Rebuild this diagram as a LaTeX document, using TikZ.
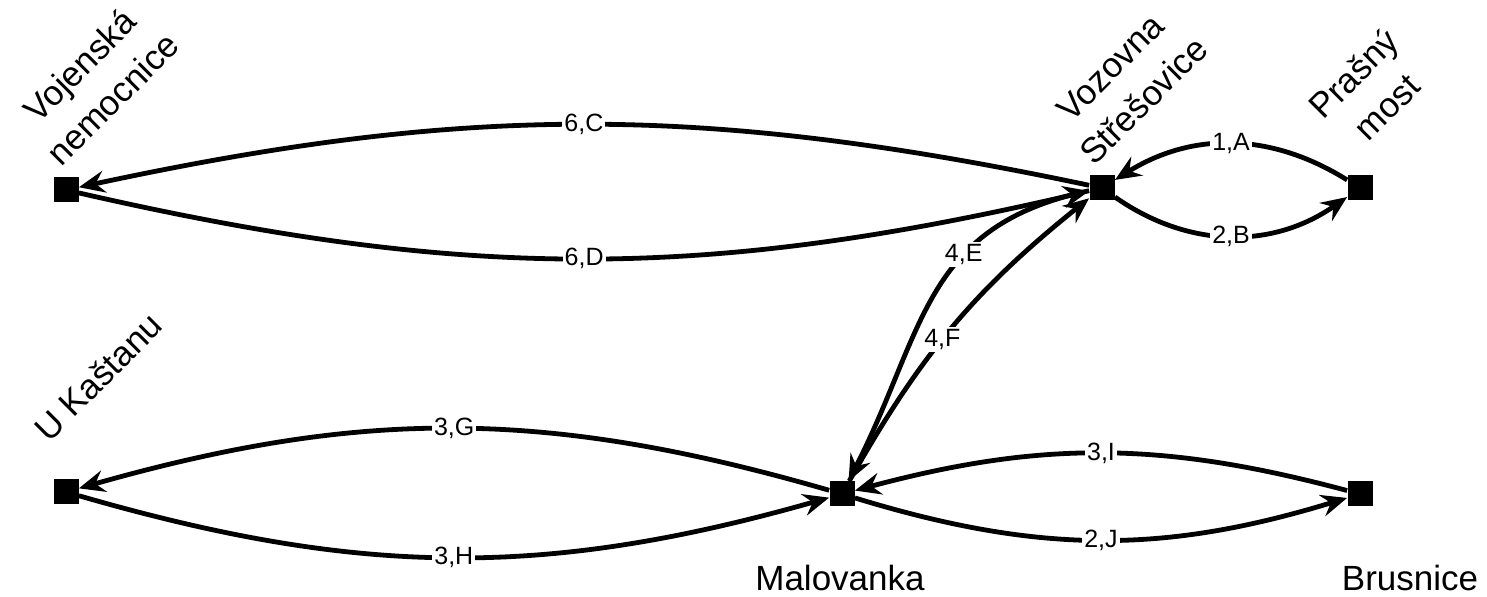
\documentclass[tikz,border=0pt]{standalone}
\usepackage{fontspec}
\setmainfont{Liberation Sans}
\usetikzlibrary{arrows.meta}
\begin{document}
\begin{tikzpicture}[x=0.5pt,y=0.5pt,
  stop/.style={fill=black, rectangle, minimum size=12.5pt, inner sep=0pt},
  stopname/.style={font=\fontsize{17.5}{23.5}\selectfont, align=center, inner sep=0pt},
  rname/.style={stopname, rotate=45},
  link/.style={line width=2.4pt, -{Stealth[length=13pt,width=11pt,inset=4.5pt]}},
  lab/.style={font=\fontsize{12.5}{14}\selectfont, fill=white, inner sep=1pt}]
\useasboundingbox (0,0) rectangle (1487,-597);
% stops
\node[stop] (voj) at (66,-190) {};
\node[stop] (voz) at (1102,-188) {};
\node[stop] (pra) at (1360,-188) {};
\node[stop] (uk) at (66,-492) {};
\node[stop] (mal) at (842,-494) {};
\node[stop] (bru) at (1360,-494) {};
% names
\node[rname] (vojn) at (96,-82) {Vojenská\\nemocnice};
\node[rname] (vozn) at (1127,-84) {Vozovna\\Střešovice};
\node[rname] (pran) at (1370,-90) {Prašný\\most};
\node[rname] (ukn) at (98,-377) {U Kaštanu};
\node[stopname] (maln) at (840,-578) {Malovanka};
\node[stopname] (brun) at (1410,-578) {Brusnice};
% connections
\draw[link] (voz) to[bend right=12] node[lab] {6,C} (voj);
\draw[link] (voj) to[bend right=13] node[lab] {6,D} (voz);
\draw[link] (pra) to[bend right=32] node[lab] {1,A} (voz);
\draw[link] (voz) to[bend right=35] node[lab] {2,B} (pra);
\draw[link] (voz) to[out=192,in=63,looseness=1.15] node[lab, pos=0.36] {4,E} (mal);
\draw[link] (mal) to[bend left=11] node[lab, pos=0.45] {4,F} (voz);
\draw[link] (mal) to[bend right=16] node[lab] {3,G} (uk);
\draw[link] (uk) to[bend right=16] node[lab] {3,H} (mal);
\draw[link] (bru) to[bend right=15] node[lab] {3,I} (mal);
\draw[link] (mal) to[bend right=17] node[lab] {2,J} (bru);
\end{tikzpicture}
\end{document}
